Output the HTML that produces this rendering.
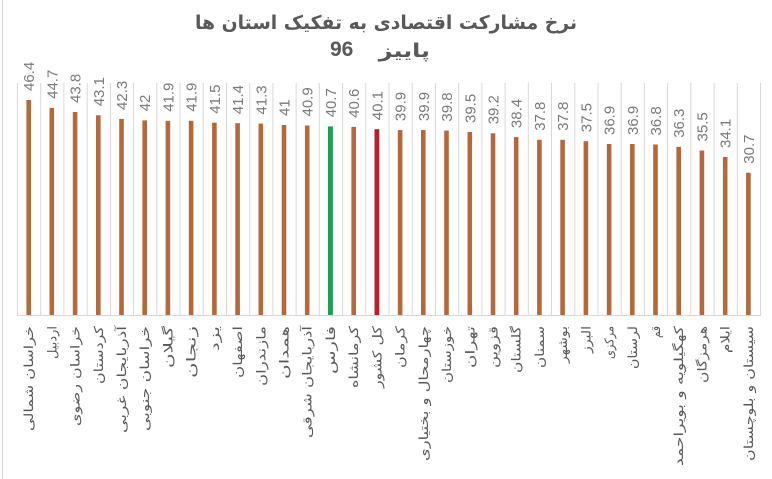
<!DOCTYPE html>
<html><head><meta charset="utf-8">
<style>
html,body{margin:0;padding:0;background:#fff;}
body{position:relative;width:772px;height:479px;overflow:hidden;}
svg{display:block;position:absolute;left:0;top:0;}
.v{font-family:"Liberation Sans",sans-serif;font-size:15px;fill:#7a7a7a;}
.c{font-family:"DejaVu Sans","Liberation Sans",sans-serif;font-size:12.5px;fill:#595959;}
.t{font-family:"DejaVu Sans","Liberation Sans",sans-serif;font-weight:bold;fill:#595959;}
#y96{position:absolute;left:330px;top:39px;font:bold 21px/22px "Liberation Sans",sans-serif;color:#595959;white-space:nowrap;}
#pz{position:absolute;right:342px;top:40px;font:bold 19px/22px "DejaVu Sans",sans-serif;color:#595959;white-space:nowrap;transform:scaleX(1.25);transform-origin:100% 50%;}
</style></head><body>
<svg width="772" height="479" viewBox="0 0 772 479" xmlns="http://www.w3.org/2000/svg">
<rect x="0" y="0" width="772" height="479" fill="#fff"/>
<line x1="2.5" y1="0" x2="2.5" y2="479" stroke="#d9d9d9" stroke-width="1"/>
<text class="t" x="386" y="29" font-size="19" direction="rtl" text-anchor="middle" textLength="382" lengthAdjust="spacingAndGlyphs">نرخ مشارکت اقتصادی به تفکیک استان ها</text>
<g stroke="#d9d9d9" stroke-width="1">
<line x1="17.5" y1="83" x2="17.5" y2="315"/>
<line x1="40.7" y1="83" x2="40.7" y2="315"/>
<line x1="63.9" y1="83" x2="63.9" y2="315"/>
<line x1="87.2" y1="83" x2="87.2" y2="315"/>
<line x1="110.4" y1="83" x2="110.4" y2="315"/>
<line x1="133.6" y1="83" x2="133.6" y2="315"/>
<line x1="156.8" y1="83" x2="156.8" y2="315"/>
<line x1="180.0" y1="83" x2="180.0" y2="315"/>
<line x1="203.2" y1="83" x2="203.2" y2="315"/>
<line x1="226.5" y1="83" x2="226.5" y2="315"/>
<line x1="249.7" y1="83" x2="249.7" y2="315"/>
<line x1="272.9" y1="83" x2="272.9" y2="315"/>
<line x1="296.1" y1="83" x2="296.1" y2="315"/>
<line x1="319.3" y1="83" x2="319.3" y2="315"/>
<line x1="342.6" y1="83" x2="342.6" y2="315"/>
<line x1="365.8" y1="83" x2="365.8" y2="315"/>
<line x1="389.0" y1="83" x2="389.0" y2="315"/>
<line x1="412.2" y1="83" x2="412.2" y2="315"/>
<line x1="435.4" y1="83" x2="435.4" y2="315"/>
<line x1="458.7" y1="83" x2="458.7" y2="315"/>
<line x1="481.9" y1="83" x2="481.9" y2="315"/>
<line x1="505.1" y1="83" x2="505.1" y2="315"/>
<line x1="528.3" y1="83" x2="528.3" y2="315"/>
<line x1="551.5" y1="83" x2="551.5" y2="315"/>
<line x1="574.8" y1="83" x2="574.8" y2="315"/>
<line x1="598.0" y1="83" x2="598.0" y2="315"/>
<line x1="621.2" y1="83" x2="621.2" y2="315"/>
<line x1="644.4" y1="83" x2="644.4" y2="315"/>
<line x1="667.6" y1="83" x2="667.6" y2="315"/>
<line x1="690.8" y1="83" x2="690.8" y2="315"/>
<line x1="714.1" y1="83" x2="714.1" y2="315"/>
<line x1="737.3" y1="83" x2="737.3" y2="315"/>
<line x1="760.5" y1="83" x2="760.5" y2="315"/>
<line x1="17" y1="315.5" x2="761" y2="315.5"/>
</g>
<g fill="#b5683a">
<rect x="26.4" y="100.0" width="4.6" height="215.0"/>
<rect x="49.5" y="107.9" width="4.6" height="207.1"/>
<rect x="72.8" y="112.0" width="4.6" height="203.0"/>
<rect x="96.0" y="115.3" width="4.6" height="199.7"/>
<rect x="119.2" y="119.0" width="4.6" height="196.0"/>
<rect x="142.4" y="120.4" width="4.6" height="194.6"/>
<rect x="165.6" y="120.8" width="4.6" height="194.2"/>
<rect x="188.8" y="120.8" width="4.6" height="194.2"/>
<rect x="212.1" y="122.7" width="4.6" height="192.3"/>
<rect x="235.3" y="123.2" width="4.6" height="191.8"/>
<rect x="258.5" y="123.6" width="4.6" height="191.4"/>
<rect x="281.7" y="125.0" width="4.6" height="190.0"/>
<rect x="304.9" y="125.5" width="4.6" height="189.5"/>
<rect x="351.4" y="126.9" width="4.6" height="188.1"/>
<rect x="397.8" y="130.1" width="4.6" height="184.9"/>
<rect x="421.0" y="130.1" width="4.6" height="184.9"/>
<rect x="444.2" y="130.6" width="4.6" height="184.4"/>
<rect x="467.5" y="132.0" width="4.6" height="183.0"/>
<rect x="490.7" y="133.3" width="4.6" height="181.7"/>
<rect x="513.9" y="137.1" width="4.6" height="177.9"/>
<rect x="537.1" y="139.8" width="4.6" height="175.2"/>
<rect x="560.3" y="139.8" width="4.6" height="175.2"/>
<rect x="583.6" y="141.2" width="4.6" height="173.8"/>
<rect x="606.8" y="144.0" width="4.6" height="171.0"/>
<rect x="630.0" y="144.0" width="4.6" height="171.0"/>
<rect x="653.2" y="144.5" width="4.6" height="170.5"/>
<rect x="676.4" y="146.8" width="4.6" height="168.2"/>
<rect x="699.6" y="150.5" width="4.6" height="164.5"/>
<rect x="722.9" y="157.0" width="4.6" height="158.0"/>
<rect x="746.1" y="172.7" width="4.6" height="142.3"/>
</g>
<rect x="328.0" y="126.4" width="4.9" height="188.6" fill="#1f9e55"/>
<rect x="374.5" y="129.2" width="4.8" height="185.8" fill="#b7202a"/>
<g class="v" dominant-baseline="central">
<text transform="translate(29.6,91) rotate(-90)">46.4</text>
<text transform="translate(52.8,98.9) rotate(-90)">44.7</text>
<text transform="translate(76.0,103) rotate(-90)">43.8</text>
<text transform="translate(99.3,106.3) rotate(-90)">43.1</text>
<text transform="translate(122.5,110) rotate(-90)">42.3</text>
<text transform="translate(145.7,111.4) rotate(-90)">42</text>
<text transform="translate(168.9,111.8) rotate(-90)">41.9</text>
<text transform="translate(192.1,111.8) rotate(-90)">41.9</text>
<text transform="translate(215.4,113.7) rotate(-90)">41.5</text>
<text transform="translate(238.6,114.2) rotate(-90)">41.4</text>
<text transform="translate(261.8,114.6) rotate(-90)">41.3</text>
<text transform="translate(285.0,116) rotate(-90)">41</text>
<text transform="translate(308.2,116.5) rotate(-90)">40.9</text>
<text transform="translate(331.5,117.4) rotate(-90)">40.7</text>
<text transform="translate(354.7,117.9) rotate(-90)">40.6</text>
<text transform="translate(377.9,120.2) rotate(-90)">40.1</text>
<text transform="translate(401.1,121.1) rotate(-90)">39.9</text>
<text transform="translate(424.3,121.1) rotate(-90)">39.9</text>
<text transform="translate(447.5,121.6) rotate(-90)">39.8</text>
<text transform="translate(470.8,123) rotate(-90)">39.5</text>
<text transform="translate(494.0,124.3) rotate(-90)">39.2</text>
<text transform="translate(517.2,128.1) rotate(-90)">38.4</text>
<text transform="translate(540.4,130.8) rotate(-90)">37.8</text>
<text transform="translate(563.6,130.8) rotate(-90)">37.8</text>
<text transform="translate(586.9,132.2) rotate(-90)">37.5</text>
<text transform="translate(610.1,135) rotate(-90)">36.9</text>
<text transform="translate(633.3,135) rotate(-90)">36.9</text>
<text transform="translate(656.5,135.5) rotate(-90)">36.8</text>
<text transform="translate(679.7,137.8) rotate(-90)">36.3</text>
<text transform="translate(703.0,141.5) rotate(-90)">35.5</text>
<text transform="translate(726.2,148) rotate(-90)">34.1</text>
<text transform="translate(749.4,163.7) rotate(-90)">30.7</text>
</g>
<g class="c" dominant-baseline="central" direction="rtl" text-anchor="start">
<text transform="translate(28.6,326) rotate(-90)" textLength="105" lengthAdjust="spacingAndGlyphs">خراسان شمالی</text>
<text transform="translate(51.8,326) rotate(-90)" textLength="33" lengthAdjust="spacingAndGlyphs">اردبیل</text>
<text transform="translate(75.0,326) rotate(-90)" textLength="100" lengthAdjust="spacingAndGlyphs">خراسان رضوی</text>
<text transform="translate(98.3,326) rotate(-90)" textLength="58" lengthAdjust="spacingAndGlyphs">کردستان</text>
<text transform="translate(121.5,326) rotate(-90)" textLength="107" lengthAdjust="spacingAndGlyphs">آذربایجان غربی</text>
<text transform="translate(144.7,326) rotate(-90)" textLength="105" lengthAdjust="spacingAndGlyphs">خراسان جنوبی</text>
<text transform="translate(167.9,326) rotate(-90)" textLength="42" lengthAdjust="spacingAndGlyphs">گیلان</text>
<text transform="translate(191.1,326) rotate(-90)" textLength="52" lengthAdjust="spacingAndGlyphs">زنجان</text>
<text transform="translate(214.4,326) rotate(-90)" textLength="25" lengthAdjust="spacingAndGlyphs">یزد</text>
<text transform="translate(237.6,326) rotate(-90)" textLength="52" lengthAdjust="spacingAndGlyphs">اصفهان</text>
<text transform="translate(260.8,326) rotate(-90)" textLength="60" lengthAdjust="spacingAndGlyphs">مازندران</text>
<text transform="translate(284.0,326) rotate(-90)" textLength="53" lengthAdjust="spacingAndGlyphs">همدان</text>
<text transform="translate(307.2,326) rotate(-90)" textLength="112" lengthAdjust="spacingAndGlyphs">آذربایجان شرقی</text>
<text transform="translate(330.5,326) rotate(-90)" textLength="48" lengthAdjust="spacingAndGlyphs">فارس</text>
<text transform="translate(353.7,326) rotate(-90)" textLength="62" lengthAdjust="spacingAndGlyphs">کرمانشاه</text>
<text transform="translate(376.9,326) rotate(-90)" textLength="62" lengthAdjust="spacingAndGlyphs">کل کشور</text>
<text transform="translate(400.1,326) rotate(-90)" textLength="42" lengthAdjust="spacingAndGlyphs">کرمان</text>
<text transform="translate(423.3,326) rotate(-90)" textLength="135" lengthAdjust="spacingAndGlyphs">چهارمحال و بختیاری</text>
<text transform="translate(446.5,326) rotate(-90)" textLength="57" lengthAdjust="spacingAndGlyphs">خوزستان</text>
<text transform="translate(469.8,326) rotate(-90)" textLength="42" lengthAdjust="spacingAndGlyphs">تهران</text>
<text transform="translate(493.0,326) rotate(-90)" textLength="42" lengthAdjust="spacingAndGlyphs">قزوین</text>
<text transform="translate(516.2,326) rotate(-90)" textLength="47" lengthAdjust="spacingAndGlyphs">گلستان</text>
<text transform="translate(539.4,326) rotate(-90)" textLength="42" lengthAdjust="spacingAndGlyphs">سمنان</text>
<text transform="translate(562.6,326) rotate(-90)" textLength="37" lengthAdjust="spacingAndGlyphs">بوشهر</text>
<text transform="translate(585.9,326) rotate(-90)" textLength="27" lengthAdjust="spacingAndGlyphs">البرز</text>
<text transform="translate(609.1,326) rotate(-90)" textLength="33" lengthAdjust="spacingAndGlyphs">مرکزی</text>
<text transform="translate(632.3,326) rotate(-90)" textLength="43" lengthAdjust="spacingAndGlyphs">لرستان</text>
<text transform="translate(655.5,326) rotate(-90)" textLength="12" lengthAdjust="spacingAndGlyphs">قم</text>
<text transform="translate(678.7,326) rotate(-90)" textLength="140" lengthAdjust="spacingAndGlyphs">کهگیلویه و بویراحمد</text>
<text transform="translate(702.0,326) rotate(-90)" textLength="57" lengthAdjust="spacingAndGlyphs">هرمزگان</text>
<text transform="translate(725.2,326) rotate(-90)" textLength="27" lengthAdjust="spacingAndGlyphs">ایلام</text>
<text transform="translate(748.4,326) rotate(-90)" textLength="135" lengthAdjust="spacingAndGlyphs">سیستان و بلوچستان</text>
</g>
</svg>
<div id="y96">96</div>
<div id="pz" dir="rtl">پاییز</div>
</body></html>
